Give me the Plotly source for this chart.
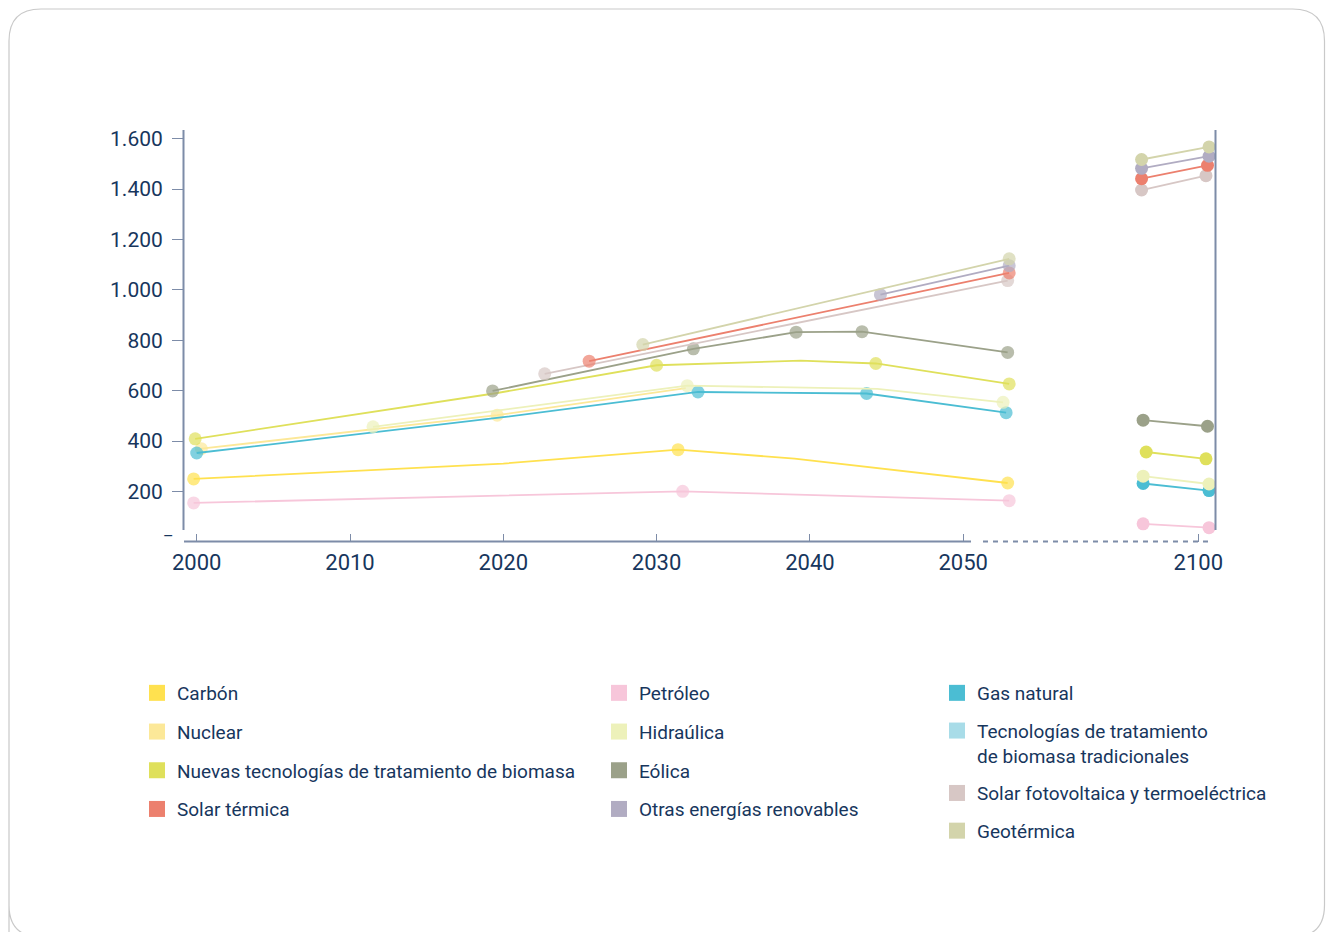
import plotly.graph_objects as go

# ---------------- data ----------------
CARBON_YEARS = [1999.8, 2020.0, 2031.4, 2039.0, 2052.9]
CARBON_VALUES = [250, 311, 366, 331, 234]
CARBON_DOTS = [1, 0, 1, 0, 1]

NUCLEAR_YEARS = [2000.3, 2019.6, 2031.9]
NUCLEAR_VALUES = [370, 503, 610]
NUCLEAR_DOTS = [1, 1, 0]

BIOMASS_NEW_YEARS = [1999.9, 2019.6, 2030.0, 2039.4, 2044.3, 2053.0]
BIOMASS_NEW_VALUES = [409, 591, 701, 719, 708, 627]
BIOMASS_NEW_DOTS = [1, 0, 1, 0, 1, 1]
BIOMASS_NEW_LATE_YEARS = [2096.6, 2100.5]
BIOMASS_NEW_LATE_VALUES = [357, 330]

SOLAR_THERMAL_YEARS = [2025.6, 2053.0]
SOLAR_THERMAL_VALUES = [717, 1067]
SOLAR_THERMAL_LATE_YEARS = [2096.3, 2100.6]
SOLAR_THERMAL_LATE_VALUES = [1441, 1494]

OIL_YEARS = [1999.8, 2031.7, 2053.0]
OIL_VALUES = [155, 201, 164]
OIL_LATE_YEARS = [2096.4, 2100.7]
OIL_LATE_VALUES = [72, 57]

HYDRO_YEARS = [2011.5, 2032.0, 2044.4, 2052.6]
HYDRO_VALUES = [457, 620, 607, 554]
HYDRO_DOTS = [1, 1, 0, 1]
HYDRO_LATE_YEARS = [2096.4, 2100.7]
HYDRO_LATE_VALUES = [261, 230]

WIND_YEARS = [2019.3, 2032.4, 2039.1, 2043.4, 2052.9]
WIND_VALUES = [599, 766, 832, 834, 752]
WIND_LATE_YEARS = [2096.4, 2100.6]
WIND_LATE_VALUES = [483, 459]

OTHER_YEARS = [2044.6, 2053.0]
OTHER_VALUES = [981, 1096]
OTHER_LATE_YEARS = [2096.3, 2100.7]
OTHER_LATE_VALUES = [1482, 1530]

GAS_YEARS = [2000.0, 2020.0, 2032.7, 2043.7, 2052.8]
GAS_VALUES = [353, 495, 595, 589, 513]
GAS_DOTS = [1, 0, 1, 1, 1]
GAS_LATE_YEARS = [2096.4, 2100.7]
GAS_LATE_VALUES = [232, 204]

PV_YEARS = [2022.7, 2052.9]
PV_VALUES = [667, 1037]
PV_LATE_YEARS = [2096.3, 2100.5]
PV_LATE_VALUES = [1396, 1453]

GEO_YEARS = [2029.1, 2053.0]
GEO_VALUES = [783, 1123]
GEO_LATE_YEARS = [2096.3, 2100.7]
GEO_LATE_VALUES = [1517, 1567]

Y_TICKS = [200, 400, 600, 800, 1000, 1200, 1400, 1600]
Y_TICK_LABELS = ["200", "400", "600", "800", "1.000", "1.200", "1.400", "1.600"]
Y_ZERO_LABEL = "–"
X_TICKS = [2000, 2010, 2020, 2030, 2040, 2050]
X_TICKS_LATE = [2100]

LEGEND_COL1 = ["Carbón", "Nuclear", "Nuevas tecnologías de tratamiento de biomasa", "Solar térmica"]
LEGEND_COL2 = ["Petróleo", "Hidraúlica", "Eólica", "Otras energías renovables"]
LEGEND_COL3 = ["Gas natural", "Tecnologías de tratamiento<br>de biomasa tradicionales",
               "Solar fotovoltaica y termoeléctrica", "Geotérmica"]

COLORS = {
    "Carbón": "#FFE14F",
    "Nuclear": "#FCE898",
    "Nuevas tecnologías de tratamiento de biomasa": "#DFE05B",
    "Solar térmica": "#EC806E",
    "Petróleo": "#F7C6DA",
    "Hidraúlica": "#EDF1BA",
    "Eólica": "#9BA189",
    "Otras energías renovables": "#B1ACC2",
    "Gas natural": "#4BBDD3",
    "Tecnologías de tratamiento<br>de biomasa tradicionales": "#A8DCE8",
    "Solar fotovoltaica y termoeléctrica": "#D7C7C5",
    "Geotérmica": "#D3D4AB",
}

SERIES = [
    ("Petróleo", OIL_YEARS, OIL_VALUES, None, OIL_LATE_YEARS, OIL_LATE_VALUES),
    ("Carbón", CARBON_YEARS, CARBON_VALUES, CARBON_DOTS, None, None),
    ("Nuclear", NUCLEAR_YEARS, NUCLEAR_VALUES, NUCLEAR_DOTS, None, None),
    ("Gas natural", GAS_YEARS, GAS_VALUES, GAS_DOTS, GAS_LATE_YEARS, GAS_LATE_VALUES),
    ("Hidraúlica", HYDRO_YEARS, HYDRO_VALUES, HYDRO_DOTS, HYDRO_LATE_YEARS, HYDRO_LATE_VALUES),
    ("Nuevas tecnologías de tratamiento de biomasa", BIOMASS_NEW_YEARS, BIOMASS_NEW_VALUES,
     BIOMASS_NEW_DOTS, BIOMASS_NEW_LATE_YEARS, BIOMASS_NEW_LATE_VALUES),
    ("Eólica", WIND_YEARS, WIND_VALUES, None, WIND_LATE_YEARS, WIND_LATE_VALUES),
    ("Solar fotovoltaica y termoeléctrica", PV_YEARS, PV_VALUES, None, PV_LATE_YEARS, PV_LATE_VALUES),
    ("Solar térmica", SOLAR_THERMAL_YEARS, SOLAR_THERMAL_VALUES, None,
     SOLAR_THERMAL_LATE_YEARS, SOLAR_THERMAL_LATE_VALUES),
    ("Otras energías renovables", OTHER_YEARS, OTHER_VALUES, None, OTHER_LATE_YEARS, OTHER_LATE_VALUES),
    ("Geotérmica", GEO_YEARS, GEO_VALUES, None, GEO_LATE_YEARS, GEO_LATE_VALUES),
]

# ---------------- layout geometry ----------------
W, H = 1326, 932
ML, MR, MT, MB = 184, 110, 130, 390
PW = W - ML - MR
PH = H - MT - MB
PX_PER_YEAR = 15.33
PX_PER_UNIT = 0.25214
X2000_PX = 196.7
X2100_PX = 1198.3
MAIN_END_PX = 1030
LATE_START_PX = 1100

TEXT = "#17365D"
AXIS = "#7D8CA8"
FONT = "Roboto"
MARKER = 13


def pxx(p):
    return (p - ML) / PW


def pxy(p):
    return (MT + PH - p) / PH


main_range = [2000 + (ML - X2000_PX) / PX_PER_YEAR, 2000 + (MAIN_END_PX - X2000_PX) / PX_PER_YEAR]
late_range = [2100 + (LATE_START_PX - X2100_PX) / PX_PER_YEAR, 2100 + (ML + PW - X2100_PX) / PX_PER_YEAR]
y_top = PH / PX_PER_UNIT
y_range = [0, y_top]

fig = go.Figure()

for name, xs, ys, dots, lx, ly in SERIES:
    c = COLORS[name]
    sizes = [MARKER if (dots is None or d) else 0 for d in (dots or [1] * len(xs))]
    fig.add_trace(go.Scatter(x=xs, y=ys, mode="lines+markers", xaxis="x", yaxis="y",
                             line=dict(color=c, width=1.8),
                             marker=dict(color=c, size=sizes, line=dict(width=0)),
                             showlegend=False, hoverinfo="x+y", name=name))
    if lx:
        fig.add_trace(go.Scatter(x=lx, y=ly, mode="lines+markers", xaxis="x2", yaxis="y",
                                 line=dict(color=c, width=1.8),
                                 marker=dict(color=c, size=MARKER, line=dict(width=0)),
                                 showlegend=False, hoverinfo="x+y", name=name))

# legend entries
for leg, names in (("legend", LEGEND_COL1), ("legend2", LEGEND_COL2), ("legend3", LEGEND_COL3)):
    for n in names:
        fig.add_trace(go.Scatter(x=[None], y=[None], mode="markers", name=n, legend=leg,
                                 legendgroup=n, xaxis="x", yaxis="y",
                                 marker=dict(symbol="square", size=16, color=COLORS[n],
                                             line=dict(width=0))))

shapes = []
# rounded frame
bx0, by0, bx1, by1, rr = 9, 9, 1324.5, 937, 32
path = (f"M {pxx(bx0)},{pxy(by1)} L {pxx(bx0)},{pxy(by0 + rr)} "
        f"Q {pxx(bx0)},{pxy(by0)} {pxx(bx0 + rr)},{pxy(by0)} "
        f"L {pxx(bx1 - rr)},{pxy(by0)} Q {pxx(bx1)},{pxy(by0)} {pxx(bx1)},{pxy(by0 + rr)} "
        f"L {pxx(bx1)},{pxy(by1 - rr)} Q {pxx(bx1)},{pxy(by1)} {pxx(bx1 - rr)},{pxy(by1)} "
        f"L {pxx(bx0 + rr)},{pxy(by1)} Q {pxx(bx0)},{pxy(by1)} {pxx(bx0)},{pxy(by1 - rr)} Z")
shapes.append(dict(type="path", xref="paper", yref="paper", path=path,
                   line=dict(color="#C9C9C9", width=1.2), layer="below"))
# axis lines
shapes.append(dict(type="line", xref="paper", yref="paper", x0=pxx(183.5), x1=pxx(183.5),
                   y0=pxy(130), y1=pxy(530), line=dict(color=AXIS, width=2)))
shapes.append(dict(type="line", xref="paper", yref="paper", x0=pxx(1215.5), x1=pxx(1215.5),
                   y0=pxy(130), y1=pxy(530), line=dict(color=AXIS, width=2)))
shapes.append(dict(type="line", xref="paper", yref="paper", x0=pxx(184), x1=pxx(971),
                   y0=pxy(541.5), y1=pxy(541.5), line=dict(color=AXIS, width=2)))
shapes.append(dict(type="line", xref="paper", yref="paper", x0=pxx(983), x1=pxx(1213),
                   y0=pxy(541.5), y1=pxy(541.5), line=dict(color=AXIS, width=2, dash="5px,5px")))

xtickfont = dict(family=FONT, size=22, color=TEXT)
ytickfont = dict(family=FONT, size=21, color=TEXT)
common_x = dict(showgrid=False, zeroline=False, showline=False, tickcolor=AXIS, tickwidth=1.3)
legfont = dict(family=FONT, size=19, color=TEXT)


def legend_cfg(text_px, top_px, gap, valign="middle"):
    return dict(x=pxx(text_px - 40), y=pxy(top_px), xanchor="left", yanchor="top",
                font=legfont, bgcolor="rgba(0,0,0,0)", borderwidth=0,
                traceorder="grouped", tracegroupgap=gap, valign=valign, itemclick=False)


fig.update_layout(
    width=W, height=H, margin=dict(l=ML, r=MR, t=MT, b=MB),
    paper_bgcolor="white", plot_bgcolor="white",
    font=dict(family=FONT, color=TEXT),
    # labelled axes carry the inside ticks, overlays carry the outside ticks
    xaxis=dict(domain=[0, pxx(MAIN_END_PX)], range=main_range, tickvals=X_TICKS,
               ticks="inside", ticklen=8, tickfont=xtickfont, ticklabelstandoff=5,
               anchor="y", **common_x),
    xaxis2=dict(domain=[pxx(LATE_START_PX), 1], range=late_range, tickvals=X_TICKS_LATE,
                ticks="inside", ticklen=8, tickfont=xtickfont, ticklabelstandoff=5,
                anchor="y", **common_x),
    xaxis3=dict(overlaying="x", range=main_range, tickvals=X_TICKS, ticks="outside", ticklen=7,
                showticklabels=False, anchor="y", side="bottom", **common_x),
    xaxis4=dict(overlaying="x2", range=late_range, tickvals=X_TICKS_LATE, ticks="outside", ticklen=7,
                showticklabels=False, anchor="y", side="bottom", **common_x),
    yaxis=dict(range=y_range, tickvals=Y_TICKS, ticktext=Y_TICK_LABELS, ticks="outside",
               ticklen=11, tickfont=ytickfont, ticklabelstandoff=5, anchor="x", **common_x),
    yaxis3=dict(overlaying="y", range=y_range, tickvals=Y_TICKS, ticks="inside", ticklen=11,
                showticklabels=False, anchor="x", **common_x),
    legend=legend_cfg(177, 674, 11),
    legend2=legend_cfg(639, 674, 11),
    legend3=legend_cfg(977, 674, 10, "top"),
    shapes=shapes,
    annotations=[dict(x=pxx(161), xref="paper", y=0, yref="y", yshift=6, text=Y_ZERO_LABEL,
                      showarrow=False, font=dict(family=FONT, size=16, color=TEXT))],
    hovermode="closest",
)

fig.write_html("out.html", config={"displayModeBar": False},
               post_script="document.body.style.margin='0';")
